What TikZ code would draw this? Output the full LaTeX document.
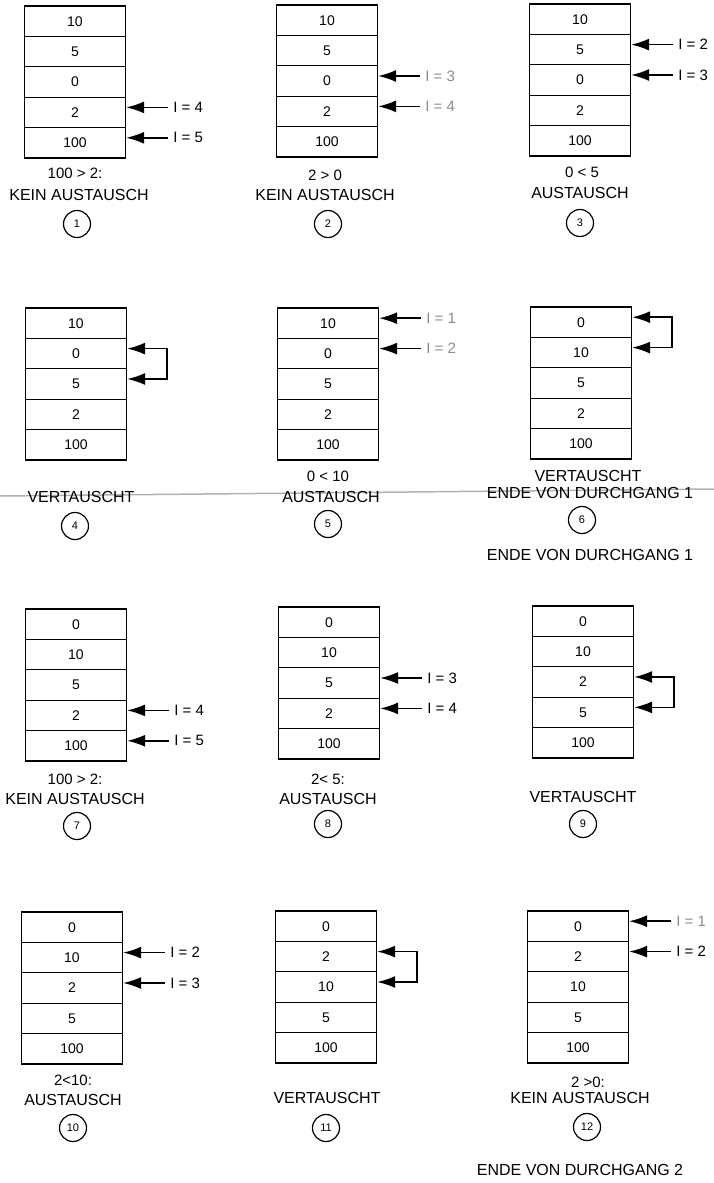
\documentclass[tikz,border=0pt]{standalone}
\usepackage{fontspec}
\setmainfont{Liberation Sans}
\usetikzlibrary{arrows.meta,positioning}

\begin{document}
\begin{tikzpicture}[
    x=1pt, y=-1pt,
    cell/.style={draw, line width=1.3pt, minimum width=101pt, minimum height=30.4pt,
      inner sep=0pt, font=\fontsize{14}{16}\selectfont},
    idx/.style={font=\fontsize{15}{17}\selectfont, inner sep=1pt, yshift=5pt},
    faded/.style={text=black!45},
    ptr/.style={-{Latex[length=18pt,width=12pt]}, line width=1.6pt, shorten <=4pt},
    swap/.style={{Latex[length=18pt,width=12pt]}-{Latex[length=18pt,width=12pt]}, line width=1.6pt},
    cond/.style={font=\fontsize{15}{17}\selectfont, inner sep=0pt},
    verdict/.style={font=\fontsize{16}{18}\selectfont, inner sep=0pt},
    num/.style={draw, circle, line width=1.2pt, minimum size=27pt, inner sep=0pt,
      font=\fontsize{11}{13}\selectfont}
  ]
  \useasboundingbox (0,0) rectangle (714,1183);
  \draw[black!30, line width=1.5pt] (0,496) -- (714,489);

  % row 1
  \foreach \v [count=\k] in {10,5,0,2,100}
    \node[cell] (p1-\k) at (75,{6+30.4*\k-15.2}) {\v};
  \node[idx, right=46pt of p1-4.east] (i1a) {I = 4};
  \node[idx, right=46pt of p1-5.east] (i1b) {I = 5};
  \draw[ptr] (i1a.west) -- (i1a.west -| p1-4.east);
  \draw[ptr] (i1b.west) -- (i1b.west -| p1-5.east);
  \node[cond] (c1) at (75,173) {100 > 2:};
  \node[verdict] (v1) at (79,195) {KEIN AUSTAUSCH};
  \node[num] (n1) at (77,224) {1};

  \foreach \v [count=\k] in {10,5,0,2,100}
    \node[cell] (p2-\k) at (327,{5+30.4*\k-15.2}) {\v};
  \node[idx, faded, right=46pt of p2-3.east] (i2a) {I = 3};
  \node[idx, faded, right=46pt of p2-4.east] (i2b) {I = 4};
  \draw[ptr] (i2a.west) -- (i2a.west -| p2-3.east);
  \draw[ptr] (i2b.west) -- (i2b.west -| p2-4.east);
  \node[cond] (c2) at (325,175) {2 > 0};
  \node[verdict] (v2) at (325,195) {KEIN AUSTAUSCH};
  \node[num] (n2) at (328,224) {2};

  \foreach \v [count=\k] in {10,5,0,2,100}
    \node[cell] (p3-\k) at (580,{4+30.4*\k-15.2}) {\v};
  \node[idx, right=46pt of p3-2.east] (i3a) {I = 2};
  \node[idx, right=46pt of p3-3.east] (i3b) {I = 3};
  \draw[ptr] (i3a.west) -- (i3a.west -| p3-2.east);
  \draw[ptr] (i3b.west) -- (i3b.west -| p3-3.east);
  \node[cond] (c3) at (582,172) {0 < 5};
  \node[verdict] (v3) at (580,193) {AUSTAUSCH};
  \node[num] (n3) at (580,223) {3};

  % row 2
  \foreach \v [count=\k] in {10,0,5,2,100}
    \node[cell] (p4-\k) at (76,{308+30.4*\k-15.2}) {\v};
  \draw[swap] ([yshift=5pt]p4-2.east) -- ++(40,0) |- ([yshift=5pt]p4-3.east);
  \node[verdict] (v4) at (81,497) {VERTAUSCHT};
  \node[num] (n4) at (75,526) {4};

  \foreach \v [count=\k] in {10,0,5,2,100}
    \node[cell] (p5-\k) at (328,{308+30.4*\k-15.2}) {\v};
  \node[idx, faded, right=46pt of p5-1.east] (i5a) {I = 1};
  \node[idx, faded, right=46pt of p5-2.east] (i5b) {I = 2};
  \draw[ptr] (i5a.west) -- (i5a.west -| p5-1.east);
  \draw[ptr] (i5b.west) -- (i5b.west -| p5-2.east);
  \node[cond] (c5) at (328,476) {0 < 10};
  \node[verdict] (v5) at (331,497) {AUSTAUSCH};
  \node[num] (n5) at (328,524) {5};

  \foreach \v [count=\k] in {0,10,5,2,100}
    \node[cell] (p6-\k) at (581,{307+30.4*\k-15.2}) {\v};
  \draw[swap] ([yshift=5pt]p6-1.east) -- ++(40,0) |- ([yshift=5pt]p6-2.east);
  \node[verdict] (v6) at (588,476) {VERTAUSCHT};
  \node[verdict] (e6) at (590,493) {ENDE VON DURCHGANG 1};
  \node[num] (n6) at (582,520) {6};
  \node[verdict] (f6) at (590,555) {ENDE VON DURCHGANG 1};

  % row 3
  \foreach \v [count=\k] in {0,10,5,2,100}
    \node[cell] (p7-\k) at (76,{609+30.4*\k-15.2}) {\v};
  \node[idx, right=46pt of p7-4.east] (i7a) {I = 4};
  \node[idx, right=46pt of p7-5.east] (i7b) {I = 5};
  \draw[ptr] (i7a.west) -- (i7a.west -| p7-4.east);
  \draw[ptr] (i7b.west) -- (i7b.west -| p7-5.east);
  \node[cond] (c7) at (75,779) {100 > 2:};
  \node[verdict] (v7) at (75,799) {KEIN AUSTAUSCH};
  \node[num] (n7) at (77,826) {7};

  \foreach \v [count=\k] in {0,10,5,2,100}
    \node[cell] (p8-\k) at (329,{607+30.4*\k-15.2}) {\v};
  \node[idx, right=46pt of p8-3.east] (i8a) {I = 3};
  \node[idx, right=46pt of p8-4.east] (i8b) {I = 4};
  \draw[ptr] (i8a.west) -- (i8a.west -| p8-3.east);
  \draw[ptr] (i8b.west) -- (i8b.west -| p8-4.east);
  \node[cond] (c8) at (328,779) {2< 5:};
  \node[verdict] (v8) at (328,799) {AUSTAUSCH};
  \node[num] (n8) at (328,824) {8};

  \foreach \v [count=\k] in {0,10,2,5,100}
    \node[cell] (p9-\k) at (583,{606+30.4*\k-15.2}) {\v};
  \draw[swap] ([yshift=5pt]p9-3.east) -- ++(40,0) |- ([yshift=5pt]p9-4.east);
  \node[verdict] (v9) at (583,797) {VERTAUSCHT};
  \node[num] (n9) at (583,824) {9};

  % row 4
  \foreach \v [count=\k] in {0,10,2,5,100}
    \node[cell] (p10-\k) at (72,{912+30.4*\k-15.2}) {\v};
  \node[idx, right=46pt of p10-2.east] (i10a) {I = 2};
  \node[idx, right=46pt of p10-3.east] (i10b) {I = 3};
  \draw[ptr] (i10a.west) -- (i10a.west -| p10-2.east);
  \draw[ptr] (i10b.west) -- (i10b.west -| p10-3.east);
  \node[cond] (c10) at (73,1080) {2<10:};
  \node[verdict] (v10) at (73,1100) {AUSTAUSCH};
  \node[num] (n10) at (73,1128) {10};

  \foreach \v [count=\k] in {0,2,10,5,100}
    \node[cell] (p11-\k) at (326,{911+30.4*\k-15.2}) {\v};
  \draw[swap] ([yshift=5pt]p11-2.east) -- ++(40,0) |- ([yshift=5pt]p11-3.east);
  \node[verdict] (v11) at (327,1098) {VERTAUSCHT};
  \node[num] (n11) at (326,1128) {11};

  \foreach \v [count=\k] in {0,2,10,5,100}
    \node[cell] (p12-\k) at (578,{911+30.4*\k-15.2}) {\v};
  \node[idx, faded, right=46pt of p12-1.east] (i12a) {I = 1};
  \node[idx, right=46pt of p12-2.east] (i12b) {I = 2};
  \draw[ptr] (i12a.west) -- (i12a.west -| p12-1.east);
  \draw[ptr] (i12b.west) -- (i12b.west -| p12-2.east);
  \node[cond] (c12) at (588,1082) {2 >0:};
  \node[verdict] (v12) at (580,1098) {KEIN AUSTAUSCH};
  \node[num] (n12) at (587,1127) {12};
  \node[verdict] (e12) at (580,1170) {ENDE VON DURCHGANG 2};
\end{tikzpicture}
\end{document}
